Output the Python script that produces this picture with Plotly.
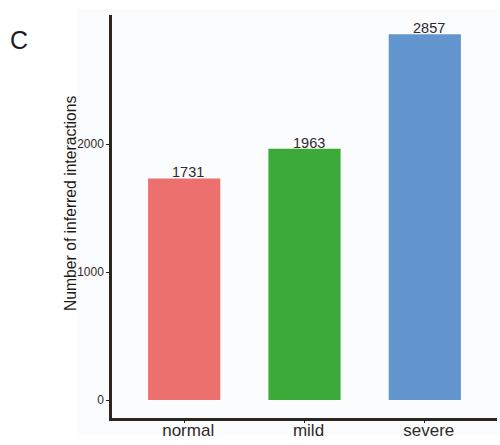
import plotly.graph_objects as go

# Inferred interaction counts per condition
groups = ["normal", "mild", "severe"]
counts = [1731, 1963, 2857]
bar_colors = ["#EB706E", "#3BAA38", "#6396CF"]
y_ticks = [0, 1000, 2000]

W, H = 500, 445
ML, MR, MT, MB = 112, 3, 15, 27
pw, ph = W - ML - MR, H - MT - MB

ink = "#2B2520"
text_col = "#2E2A27"
font_family = "Liberation Sans, Arial, sans-serif"

fig = go.Figure(
    go.Bar(
        x=groups,
        y=counts,
        width=0.6,
        marker=dict(color=bar_colors, line=dict(width=0)),
        hoverinfo="x+y",
    )
)

# value labels sitting on top of each bar
for g, v in zip(groups, counts):
    fig.add_annotation(
        x=g, y=v, text=str(v), showarrow=False,
        xanchor="center", yanchor="bottom", yshift=-4, xshift=4,
        font=dict(size=14.5, color=text_col),
    )

# pale panel backdrop extending past the axes
fig.add_shape(
    type="rect", xref="paper", yref="paper",
    x0=(77 - ML) / pw, x1=1 + (W - (ML + pw)) / pw,
    y0=-(435 - (MT + ph)) / ph, y1=1 + (MT - 9) / ph,
    fillcolor="#FBFCFE", line=dict(width=0), layer="below",
)

fig.update_layout(
    width=W, height=H,
    margin=dict(l=ML, r=MR, t=MT, b=MB),
    paper_bgcolor="white",
    plot_bgcolor="rgba(0,0,0,0)",
    showlegend=False,
    font=dict(family=font_family, color=text_col),
)

fig.update_xaxes(
    range=[-0.6, 2.6],
    showline=True, linecolor=ink, linewidth=2.5,
    ticks="outside", ticklen=2, tickwidth=1, tickcolor=ink,
    tickfont=dict(size=17, color=text_col),
    ticklabelstandoff=-7, ticklabelshift=4,
    showgrid=False, zeroline=False,
)
fig.update_yaxes(
    range=[-140, 3008],
    tickvals=y_ticks,
    ticktext=[str(v) for v in y_ticks],
    showline=True, linecolor=ink, linewidth=2.5,
    ticks="outside", ticklen=3, tickwidth=1, tickcolor=ink,
    tickfont=dict(size=12, color=text_col),
    showgrid=False, zeroline=False,
)

fig.add_annotation(
    text="Number of inferred interactions",
    xref="paper", yref="paper",
    x=(71 - ML) / pw, y=1 - (203 - MT) / ph,
    xanchor="center", yanchor="middle",
    textangle=-90, showarrow=False,
    font=dict(size=15.7, color="#1F1B18"),
)
fig.add_annotation(
    text="C",
    xref="paper", yref="paper",
    x=(18.5 - ML) / pw, y=1 - (40 - MT) / ph,
    xanchor="center", yanchor="middle",
    showarrow=False,
    font=dict(size=25, color="#1F1B18"),
)

fig.write_html("out.html")
